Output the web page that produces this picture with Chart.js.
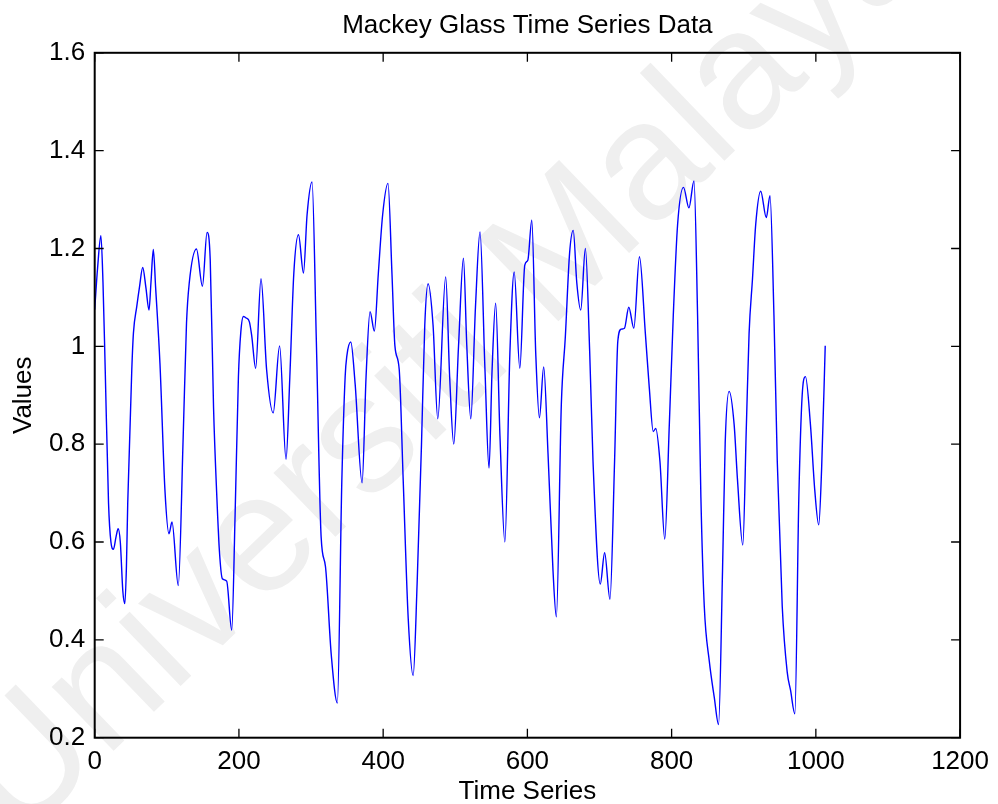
<!DOCTYPE html>
<html>
<head>
<meta charset="utf-8">
<title>Mackey Glass Time Series Data</title>
<script src="https://cdn.jsdelivr.net/npm/chart.js@4/dist/chart.umd.min.js"></script>
<style>
    html, body { margin: 0; padding: 0; background: #ffffff; }
    #chart { display: block; }
</style>
</head>
<body>
<canvas id="chart" width="998" height="804"></canvas>
<script>
// Series (time index, value)
const timeSteps = [
    0, 4, 8.6, 11.5, 14.6, 19.2, 22.5, 26, 29.5, 32.5, 35.5, 39, 41.8, 44, 45.8,
    51.4, 53.7, 58.3, 62, 66.6, 71, 75.3, 78, 81.3, 84.5, 90.5, 97.4, 103, 107.2,
    115.9, 122.7, 127.3, 131, 141.1, 149.4, 155.8, 160.2, 164.8, 169.4, 173, 177,
    183, 190, 194.7, 199.3, 202.6, 206.2, 210, 214.5, 217.7, 223.2, 230.6, 238.4,
    247.5, 256.4, 265.3, 270.6, 276.1, 282.6, 289.5, 294.5, 301.4, 307.4, 314, 320,
    328, 336.5, 342.7, 347.3, 349.6, 355.1, 361.1, 370.8, 376.3, 381.8, 387.8,
    393.3, 399.3, 406.7, 412.2, 416.3, 422.3, 427.8, 434.7, 441.6, 447.1, 453.1,
    457.7, 462.3, 469.2, 475.7, 486.7, 492.2, 497.9, 504.5, 511.3, 516, 521.5, 528,
    534.3, 541.2, 546.8, 551, 556, 562, 568.8, 575.7, 581.7, 589.5, 596.4, 600.6,
    606.1, 611.6, 616.7, 622.6, 628.6, 635.5, 640.2, 647.1, 652.6, 658.5, 663.6,
    668.5, 674, 680.4, 686.4, 691, 701.1, 707.1, 714.5, 720.9, 725.4, 730.1, 734.6,
    740.6, 747.6, 755.4, 763.6, 769.1, 774.5, 778, 783.8, 790.5, 796.8, 802.3,
    808.3, 816.5, 824, 831, 836, 840.6, 845.3, 852.2, 859.2, 865.1, 870.6, 874.3,
    879.7, 886.7, 891.3, 898.7, 903.7, 907.4, 912.1, 916.6, 923.5, 931.3, 936.4,
    941.9, 946.5, 953.4, 960.3, 964.9, 970.9, 976.4, 981, 985.6, 992.5, 998.5,
    1004, 1008, 1013
];
const values = [
    1.075, 1.16, 1.226, 1.13, 0.951, 0.679, 0.6, 0.585, 0.61, 0.627, 0.6, 0.5, 0.474, 0.55, 0.679,
    0.951, 1.027, 1.081, 1.12, 1.161, 1.12, 1.074, 1.13, 1.198, 1.12, 0.965, 0.706, 0.617, 0.641,
    0.511, 0.815, 1.047, 1.128, 1.199, 1.123, 1.233, 1.177, 0.875, 0.691, 0.58, 0.525,
    0.52, 0.42, 0.656, 0.938, 1.029, 1.061, 1.058, 1.05, 1.022, 0.955, 1.138, 0.952,
    0.864, 1.001, 0.769, 0.938, 1.149, 1.228, 1.15, 1.269, 1.336, 1.008, 0.61, 0.55,
    0.37, 0.271, 0.726, 0.938, 0.98, 1.009, 0.924, 0.721, 0.938, 1.071, 1.031,
    1.149, 1.269, 1.333, 1.149, 1.001, 0.952, 0.726, 0.445, 0.327, 0.515, 0.797,
    1.043, 1.128, 1.043, 0.852, 1.142, 0.938, 0.8, 1.0, 1.18, 1.0, 0.852, 1.08,
    1.234, 0.951, 0.751, 0.95, 1.088, 0.815, 0.6, 0.985, 1.152, 0.955, 1.166, 1.176,
    1.258, 0.985, 0.854, 0.958, 0.781, 0.542, 0.447, 0.883, 1.019, 1.19, 1.237,
    1.13, 1.074, 1.2, 0.988, 0.765, 0.514, 0.578, 0.483, 0.765, 1.011, 1.035, 1.037,
    1.08, 1.037, 1.183, 1.026, 0.914, 0.826, 0.832, 0.765, 0.606, 0.84, 1.063,
    1.249, 1.325, 1.283, 1.338, 1.063, 0.691, 0.468, 0.357, 0.282, 0.227, 0.542, 0.803,
    0.908, 0.84, 0.728, 0.594, 0.84, 1.026, 1.137, 1.249, 1.317, 1.263, 1.308,
    1.063, 0.765, 0.468, 0.334, 0.297, 0.249, 0.691, 0.899, 0.938, 0.84, 0.706,
    0.635, 0.75, 1.001
];

// Axis ticks
const xTicks = [0, 200, 400, 600, 800, 1000, 1200];
const yTicks = [0.2, 0.4, 0.6, 0.8, 1.0, 1.2, 1.4, 1.6];

const FONT = '"Liberation Sans", Arial, Helvetica, sans-serif';

// Light diagonal watermark behind the plot
const watermark = {
    id: 'watermark',
    beforeDraw(chart) {
        const ctx = chart.ctx;
        ctx.save();
        ctx.translate(18, 843);
        ctx.rotate(-44 * Math.PI / 180);
        ctx.font = '168px ' + FONT;
        ctx.fillStyle = '#efefef';
        ctx.textBaseline = 'alphabetic';
        ctx.fillText('Universiti Malaya', 0, 0);
        ctx.restore();
    }
};

// MATLAB style box with inward ticks on all four sides
const boxFrame = {
    id: 'boxFrame',
    afterDraw(chart) {
        const { ctx, chartArea: a, scales: { x, y } } = chart;
        const len = 9;
        ctx.save();
        ctx.strokeStyle = '#000000';
        ctx.lineWidth = 1.3;
        ctx.beginPath();
        xTicks.forEach(v => {
            const px = x.getPixelForValue(v);
            ctx.moveTo(px, a.bottom); ctx.lineTo(px, a.bottom - len);
            ctx.moveTo(px, a.top); ctx.lineTo(px, a.top + len);
        });
        yTicks.forEach(v => {
            const py = y.getPixelForValue(v);
            ctx.moveTo(a.left, py); ctx.lineTo(a.left + len, py);
            ctx.moveTo(a.right, py); ctx.lineTo(a.right - len, py);
        });
        ctx.stroke();
        ctx.lineWidth = 2;
        ctx.strokeRect(a.left, a.top, a.right - a.left, a.bottom - a.top);
        ctx.restore();
    }
};

const ctx = document.getElementById('chart').getContext('2d');
new Chart(ctx, {
    type: 'line',
    data: {
        datasets: [{
            label: 'Mackey Glass',
            data: timeSteps.map((t, i) => ({ x: t, y: values[i] })),
            borderColor: '#0000ff',
            borderWidth: 1.4,
            pointRadius: 0,
            fill: false,
            cubicInterpolationMode: 'monotone'
        }]
    },
    options: {
        responsive: false,
        animation: false,
        devicePixelRatio: 1,
        layout: { padding: { left: 0, right: 37, top: 0, bottom: 0 } },
        plugins: {
            legend: { display: false },
            tooltip: { enabled: false },
            title: {
                display: true,
                text: 'Mackey Glass Time Series Data',
                fullSize: false,
                color: '#000000',
                font: { family: FONT, size: 26, weight: 'normal', lineHeight: 1.2 },
                padding: { top: 10.5, bottom: 11.1 }
            }
        },
        scales: {
            x: {
                type: 'linear',
                min: 0,
                max: 1200,
                afterBuildTicks: s => { s.ticks = xTicks.map(v => ({ value: v })); },
                afterFit: s => { s.height = 66.3; },
                grid: { display: false, drawTicks: false },
                border: { display: false },
                ticks: {
                    color: '#000000',
                    font: { family: FONT, size: 26 },
                    padding: 9,
                    maxRotation: 0,
                    autoSkip: false,
                    callback: v => String(v)
                },
                title: {
                    display: true,
                    text: 'Time Series',
                    color: '#000000',
                    font: { family: FONT, size: 26, lineHeight: 1.2 },
                    padding: { top: 0, bottom: -3.5 }
                }
            },
            y: {
                type: 'linear',
                min: 0.2,
                max: 1.6,
                afterBuildTicks: s => { s.ticks = yTicks.map(v => ({ value: v })); },
                afterFit: s => { s.width = 94.7; },
                grid: { display: false, drawTicks: false },
                border: { display: false },
                ticks: {
                    color: '#000000',
                    font: { family: FONT, size: 26 },
                    padding: 9.5,
                    autoSkip: false,
                    callback: v => String(+v.toFixed(1))
                },
                title: {
                    display: true,
                    text: 'Values',
                    color: '#000000',
                    font: { family: FONT, size: 26, lineHeight: 1.2 },
                    padding: { top: 8.5, bottom: 0 }
                }
            }
        }
    },
    plugins: [watermark, boxFrame]
});
</script>
</body>
</html>
